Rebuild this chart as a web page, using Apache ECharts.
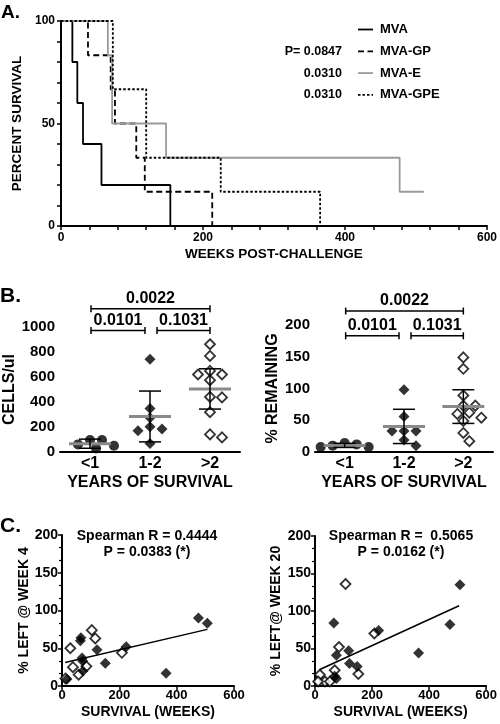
<!DOCTYPE html>
<html><head><meta charset="utf-8">
<script src="https://cdn.jsdelivr.net/npm/echarts@6/dist/echarts.min.js"></script>
<style>html,body{margin:0;padding:0;background:#fff}#c{width:500px;height:724px}</style>
</head><body><div id="c"></div>
<script>
// ---------- Panel A: Kaplan-Meier survival (weeks, percent) ----------
const mvaWeeks    = [0, 16, 23, 31, 57, 154];
const mvaSurv     = [100, 80, 60, 40, 20, 0];
const mvaGpWeeks  = [0, 38, 70, 76, 106, 118, 213];
const mvaGpSurv   = [100, 83.3, 66.7, 50, 33.3, 16.7, 0];
const mvaEWeeks   = [0, 66, 72, 148, 477, 511];
const mvaESurv    = [100, 83.3, 50, 33.3, 16.7, 16.7];
const mvaGpeWeeks = [0, 73, 120, 225, 365];
const mvaGpeSurv  = [100, 66.7, 33.3, 16.7, 0];
const groupNamesA = ['MVA', 'MVA-GP', 'MVA-E', 'MVA-GPE'];
const pValuesA    = ['', 'P= 0.0847', '0.0310', '0.0310'];

// ---------- Panel B: by years of survival ----------
const survivalGroups = ['<1', '1-2', '>2'];
const cellsLt1   = [61, 96, 96, 29, 50];
const cells1to2  = [742, 349, 202, 184, 274, 170, 69];
const cellsGt2   = [862, 769, 649, 620, 620, 575, 437, 441, 319, 117, 141];
const remLt1     = [10, 14, 8, 12, 8];
const rem1to2    = [98, 56, 33, 33, 33, 19, 10];
const remGt2     = [149, 131, 89, 73, 73, 62, 60, 54, 49, 30, 17];
const bracketPairs  = [[0, 2], [0, 1], [1, 2]];
const bracketLabels = ['0.0022', '0.0101', '0.1031'];

// ---------- Panel C: correlation with survival ----------
const wk4FilledWeeks = [476, 507, 66, 64, 122, 224, 70, 72, 73, 151, 363, 17];
const wk4FilledPct   = [90, 83, 64, 60, 48, 52, 37, 33, 20, 30, 17, 9];
const wk4OpenWeeks   = [104, 116, 29, 209, 38, 58, 85, 12];
const wk4OpenPct     = [74, 63, 50, 44, 25, 15, 26, 10];
const wk4FitWeeks    = [11, 507];
const wk4FitPct      = [31, 75];
const wk20FilledWeeks = [508, 473, 66, 223, 363, 118, 75, 121, 148, 69, 75];
const wk20FilledPct   = [135, 82, 84, 74, 44, 47, 41, 30, 26, 13, 10];
const wk20OpenWeeks   = [107, 208, 84, 69, 152, 17, 35, 52, 11];
const wk20OpenPct     = [136, 70, 52, 21, 16, 15, 6, 6, 6];
const wk20FitWeeks    = [17, 505];
const wk20FitPct      = [22, 107];
const spearman4  = ['Spearman R = 0.4444', 'P = 0.0383 (*)'];
const spearman20 = ['Spearman R =  0.5065', 'P = 0.0162 (*)'];

// ---------- helpers ----------
const FONT = '"Liberation Sans", Arial, Helvetica, sans-serif';
const zip = (a, b) => a.map((v, i) => [v, b[i]]);
const tTable = {1:12.706,2:4.303,3:3.182,4:2.776,5:2.571,6:2.447,7:2.365,8:2.306,9:2.262,10:2.228,11:2.201,12:2.179};
function meanCI(vals) {
  const n = vals.length, m = vals.reduce((s, v) => s + v, 0) / n;
  const sd = Math.sqrt(vals.reduce((s, v) => s + (v - m) * (v - m), 0) / (n - 1));
  const h = tTable[n - 1] * sd / Math.sqrt(n);
  return [m, m - h, m + h];
}
function ciData(groups) { return groups.map((g, i) => { const c = meanCI(g); return [i, c[0], c[1], c[2]]; }); }

const lineStylesA = [
  { color: '#000', width: 1.8, type: 'solid' },
  { color: '#000', width: 1.8, type: [6, 3.5] },
  { color: '#9a9a9a', width: 1.8, type: 'solid' },
  { color: '#000', width: 1.8, type: [2.5, 2] }
];

function axisBase(extra) {
  return Object.assign({
    axisLine: { lineStyle: { color: '#000', width: 2 } },
    axisTick: { length: 4, lineStyle: { color: '#000', width: 1.5 } },
    splitLine: { show: false },
    nameLocation: 'middle'
  }, extra);
}
function lbl(size, margin) { return { color: '#000', fontWeight: 'bold', fontFamily: FONT, fontSize: size, margin: margin, formatter: v => String(v) }; }
function nts(size) { return { color: '#000', fontWeight: 'bold', fontFamily: FONT, fontSize: size }; }

function renderCI(params, api) {
  const c = api.coord([api.value(0), api.value(1)]);
  const lo = api.coord([api.value(0), api.value(2)]);
  const hi = api.coord([api.value(0), api.value(3)]);
  const x = c[0];
  return { type: 'group', children: [
    { type: 'line', shape: { x1: x - 21, y1: c[1], x2: x + 21, y2: c[1] }, style: { stroke: '#8a8a8a', lineWidth: 3 } },
    { type: 'line', shape: { x1: x, y1: hi[1], x2: x, y2: lo[1] }, style: { stroke: '#000', lineWidth: 1.5 } },
    { type: 'line', shape: { x1: x - 11, y1: hi[1], x2: x + 11, y2: hi[1] }, style: { stroke: '#000', lineWidth: 1.5 } },
    { type: 'line', shape: { x1: x - 11, y1: lo[1], x2: x + 11, y2: lo[1] }, style: { stroke: '#000', lineWidth: 1.5 } }
  ]};
}
function makeBracketRenderer(levels) {
  return function (params, api) {
    const i = params.dataIndex;
    const a = api.value(0), b = api.value(1);
    const y = api.coord([0, levels[i]])[1];
    const x1 = api.coord([a, 0])[0] + (a === 1 ? 7 : 1);
    const x2 = api.coord([b, 0])[0] + (b === 1 ? -5 : 0);
    return { type: 'group', children: [
      { type: 'line', shape: { x1: x1, y1: y, x2: x2, y2: y }, style: { stroke: '#000', lineWidth: 1.5 } },
      { type: 'line', shape: { x1: x1, y1: y - 3.5, x2: x1, y2: y + 3.5 }, style: { stroke: '#000', lineWidth: 1.5 } },
      { type: 'line', shape: { x1: x2, y1: y - 3.5, x2: x2, y2: y + 3.5 }, style: { stroke: '#000', lineWidth: 1.5 } },
      { type: 'text', x: (x1 + x2) / 2, y: y - 2, style: { text: bracketLabels[i], fill: '#000', font: 'bold 16px ' + FONT, align: 'center', verticalAlign: 'bottom' } }
    ]};
  };
}

const bData = bracketPairs.map(p => [p[0], p[1]]);
const filledSym = { color: '#000' };
const openSym = { color: '#fff', borderColor: '#000', borderWidth: 1.8 };

// manual legend for panel A (line samples keep the dash patterns)
const legendGraphics = [];
groupNamesA.forEach((name, i) => {
  const y = 29.5 + i * 21.8;
  const ls = lineStylesA[i];
  legendGraphics.push({ type: 'line', shape: { x1: 358, y1: y, x2: 373, y2: y },
    style: { stroke: ls.color, lineWidth: ls.width, lineDash: Array.isArray(ls.type) ? ls.type : null } });
  legendGraphics.push({ type: 'text', x: 380, y: y, style: { text: name, font: 'bold 13px ' + FONT, fill: '#000', verticalAlign: 'middle' } });
  if (pValuesA[i]) legendGraphics.push({ type: 'text', x: 342, y: y, style: { text: pValuesA[i], font: 'bold 12.5px ' + FONT, fill: '#000', align: 'right', verticalAlign: 'middle' } });
});

const option = {
  backgroundColor: '#fff',
  animation: false,
  textStyle: { fontFamily: FONT },
  grid: [
    { left: 61, top: 21, width: 428, height: 205 },
    { left: 60, top: 327, width: 180, height: 125 },
    { left: 315, top: 325, width: 178, height: 127 },
    { left: 62, top: 535, width: 172, height: 151 },
    { left: 315, top: 536, width: 173, height: 150 }
  ],
  xAxis: [
    axisBase({ gridIndex: 0, type: 'value', min: 0, max: 600, interval: 200,
      minorTick: { show: true, splitNumber: 5, length: 4, lineStyle: { color: '#000', width: 1.5 } },
      axisLabel: lbl(12, 6), name: 'WEEKS POST-CHALLENGE', nameGap: 21, nameTextStyle: nts(13.5) }),
    axisBase({ gridIndex: 1, type: 'category', data: survivalGroups, axisTick: { show: false },
      axisLabel: lbl(16, 4), name: 'YEARS OF SURVIVAL', nameGap: 23, nameTextStyle: nts(16) }),
    axisBase({ gridIndex: 2, type: 'category', data: survivalGroups, axisTick: { show: false },
      axisLabel: lbl(16, 4), name: 'YEARS OF SURVIVAL', nameGap: 23, nameTextStyle: nts(16) }),
    axisBase({ gridIndex: 3, type: 'value', min: 0, max: 600, interval: 200,
      axisLabel: lbl(13, 3), name: 'SURVIVAL (WEEKS)', nameGap: 19, nameTextStyle: nts(14) }),
    axisBase({ gridIndex: 4, type: 'value', min: 0, max: 600, interval: 200,
      axisLabel: lbl(13, 3), name: 'SURVIVAL (WEEKS)', nameGap: 19, nameTextStyle: nts(14) })
  ],
  yAxis: [
    axisBase({ gridIndex: 0, type: 'value', min: 0, max: 100, interval: 50,
      minorTick: { show: true, splitNumber: 5, length: 4, lineStyle: { color: '#000', width: 1.5 } },
      axisLabel: lbl(12, 6), name: 'PERCENT SURVIVAL', nameGap: 31, nameTextStyle: nts(13.5) }),
    axisBase({ gridIndex: 1, type: 'value', min: 0, max: 1000, interval: 200,
      axisLabel: lbl(15, 5), name: 'CELLS/ul', nameGap: 41, nameTextStyle: nts(16) }),
    axisBase({ gridIndex: 2, type: 'value', min: 0, max: 200, interval: 50,
      axisLabel: lbl(15, 5), name: '% REMAINING', nameGap: 33, nameTextStyle: nts(16) }),
    axisBase({ gridIndex: 3, type: 'value', min: 0, max: 200, interval: 50,
      minorTick: { show: true, splitNumber: 3, length: 3, lineStyle: { color: '#000', width: 1.2 } },
      axisLabel: lbl(14, 4), name: '% LEFT @ WEEK 4', nameGap: 30, nameTextStyle: nts(14) }),
    axisBase({ gridIndex: 4, type: 'value', min: 0, max: 200, interval: 50,
      minorTick: { show: true, splitNumber: 3, length: 3, lineStyle: { color: '#000', width: 1.2 } },
      axisLabel: lbl(14, 4), name: '% LEFT@ WEEK 20', nameGap: 32, nameTextStyle: nts(14) })
  ],
  graphic: [
    { type: 'text', left: 1, top: 3, style: { text: 'A.', font: 'bold 19px ' + FONT, fill: '#000' } },
    { type: 'text', left: 0, top: 286, style: { text: 'B.', font: 'bold 21px ' + FONT, fill: '#000' } },
    { type: 'text', left: 0, top: 516, style: { text: 'C.', font: 'bold 21px ' + FONT, fill: '#000' } },
    { type: 'text', x: 147, y: 536, style: { text: spearman4[0], font: 'bold 14px ' + FONT, fill: '#000', align: 'center', verticalAlign: 'middle' } },
    { type: 'text', x: 147, y: 552, style: { text: spearman4[1], font: 'bold 14px ' + FONT, fill: '#000', align: 'center', verticalAlign: 'middle' } },
    { type: 'text', x: 401, y: 536, style: { text: spearman20[0], font: 'bold 14px ' + FONT, fill: '#000', align: 'center', verticalAlign: 'middle' } },
    { type: 'text', x: 401, y: 552, style: { text: spearman20[1], font: 'bold 14px ' + FONT, fill: '#000', align: 'center', verticalAlign: 'middle' } }
  ].concat(legendGraphics),
  series: [
    // Panel A
    { name: groupNamesA[0], type: 'line', xAxisIndex: 0, yAxisIndex: 0, step: 'end', symbol: 'none', data: zip(mvaWeeks, mvaSurv), lineStyle: lineStylesA[0] },
    { name: groupNamesA[1], type: 'line', xAxisIndex: 0, yAxisIndex: 0, step: 'end', symbol: 'none', data: zip(mvaGpWeeks, mvaGpSurv), lineStyle: lineStylesA[1] },
    { name: groupNamesA[2], type: 'line', xAxisIndex: 0, yAxisIndex: 0, step: 'end', symbol: 'none', data: zip(mvaEWeeks, mvaESurv), lineStyle: lineStylesA[2] },
    { name: groupNamesA[3], type: 'line', xAxisIndex: 0, yAxisIndex: 0, step: 'end', symbol: 'none', data: zip(mvaGpeWeeks, mvaGpeSurv), lineStyle: lineStylesA[3] },
    // Panel B left
    { id: 'bl0', type: 'scatter', xAxisIndex: 1, yAxisIndex: 1, symbol: 'circle', symbolSize: 10, itemStyle: filledSym, data: cellsLt1.map(v => [0, v]) },
    { id: 'bl1', type: 'scatter', xAxisIndex: 1, yAxisIndex: 1, symbol: 'diamond', symbolSize: 11, itemStyle: filledSym, data: cells1to2.map(v => [1, v]) },
    { id: 'bl2', type: 'scatter', xAxisIndex: 1, yAxisIndex: 1, symbol: 'diamond', symbolSize: 10, itemStyle: openSym, data: cellsGt2.map(v => [2, v]) },
    { type: 'custom', xAxisIndex: 1, yAxisIndex: 1, z: 5, renderItem: renderCI, data: ciData([cellsLt1, cells1to2, cellsGt2]) },
    { type: 'custom', xAxisIndex: 1, yAxisIndex: 1, z: 5, clip: false, renderItem: makeBracketRenderer([1147, 973, 973]), data: bData },
    // Panel B right
    { id: 'br0', type: 'scatter', xAxisIndex: 2, yAxisIndex: 2, symbol: 'circle', symbolSize: 10, itemStyle: filledSym, data: remLt1.map(v => [0, v]) },
    { id: 'br1', type: 'scatter', xAxisIndex: 2, yAxisIndex: 2, symbol: 'diamond', symbolSize: 11, itemStyle: filledSym, data: rem1to2.map(v => [1, v]) },
    { id: 'br2', type: 'scatter', xAxisIndex: 2, yAxisIndex: 2, symbol: 'diamond', symbolSize: 10, itemStyle: openSym, data: remGt2.map(v => [2, v]) },
    { type: 'custom', xAxisIndex: 2, yAxisIndex: 2, z: 5, renderItem: renderCI, data: ciData([remLt1, rem1to2, remGt2]) },
    { type: 'custom', xAxisIndex: 2, yAxisIndex: 2, z: 5, clip: false, renderItem: makeBracketRenderer([222, 183, 183]), data: bData },
    // Panel C left
    { type: 'scatter', xAxisIndex: 3, yAxisIndex: 3, symbol: 'diamond', symbolSize: 10, itemStyle: openSym, data: zip(wk4OpenWeeks, wk4OpenPct) },
    { type: 'scatter', xAxisIndex: 3, yAxisIndex: 3, symbol: 'diamond', symbolSize: 11, itemStyle: filledSym, data: zip(wk4FilledWeeks, wk4FilledPct) },
    { type: 'line', xAxisIndex: 3, yAxisIndex: 3, symbol: 'none', data: zip(wk4FitWeeks, wk4FitPct), lineStyle: { color: '#000', width: 1.5 }, z: 4 },
    // Panel C right
    { type: 'scatter', xAxisIndex: 4, yAxisIndex: 4, symbol: 'diamond', symbolSize: 10, itemStyle: openSym, data: zip(wk20OpenWeeks, wk20OpenPct) },
    { type: 'scatter', xAxisIndex: 4, yAxisIndex: 4, symbol: 'diamond', symbolSize: 11, itemStyle: filledSym, data: zip(wk20FilledWeeks, wk20FilledPct) },
    { type: 'line', xAxisIndex: 4, yAxisIndex: 4, symbol: 'none', data: zip(wk20FitWeeks, wk20FitPct), lineStyle: { color: '#000', width: 1.5 }, z: 4 }
  ]
};

const chart = echarts.init(document.getElementById('c'), null, { renderer: 'canvas' });
chart.setOption(option);

// simple beeswarm: spread points of similar value horizontally
function swarm(values, cat, gridIndex) {
  const py = values.map(v => chart.convertToPixel({ gridIndex: gridIndex }, [cat, v])[1]);
  const order = values.map((v, i) => i).sort((a, b) => values[b] - values[a]);
  const placed = [], offs = [];
  const step = 6, thr = 8.5;
  const cands = [0];
  for (let k = 1; k < 8; k++) cands.push(k * step, -k * step);
  order.forEach(i => {
    for (const dx of cands) {
      if (placed.every(p => Math.hypot(p[0] - dx, p[1] - py[i]) >= thr)) { placed.push([dx, py[i]]); offs[i] = dx; return; }
    }
    offs[i] = 0;
  });
  return values.map((v, i) => ({ value: [cat, v], symbolOffset: [offs[i], 0] }));
}
chart.setOption({ series: [
  { id: 'bl0', data: swarm(cellsLt1, 0, 1) },
  { id: 'bl1', data: swarm(cells1to2, 1, 1) },
  { id: 'bl2', data: swarm(cellsGt2, 2, 1) },
  { id: 'br0', data: swarm(remLt1, 0, 2) },
  { id: 'br1', data: swarm(rem1to2, 1, 2) },
  { id: 'br2', data: swarm(remGt2, 2, 2) }
] });
</script></body></html>
